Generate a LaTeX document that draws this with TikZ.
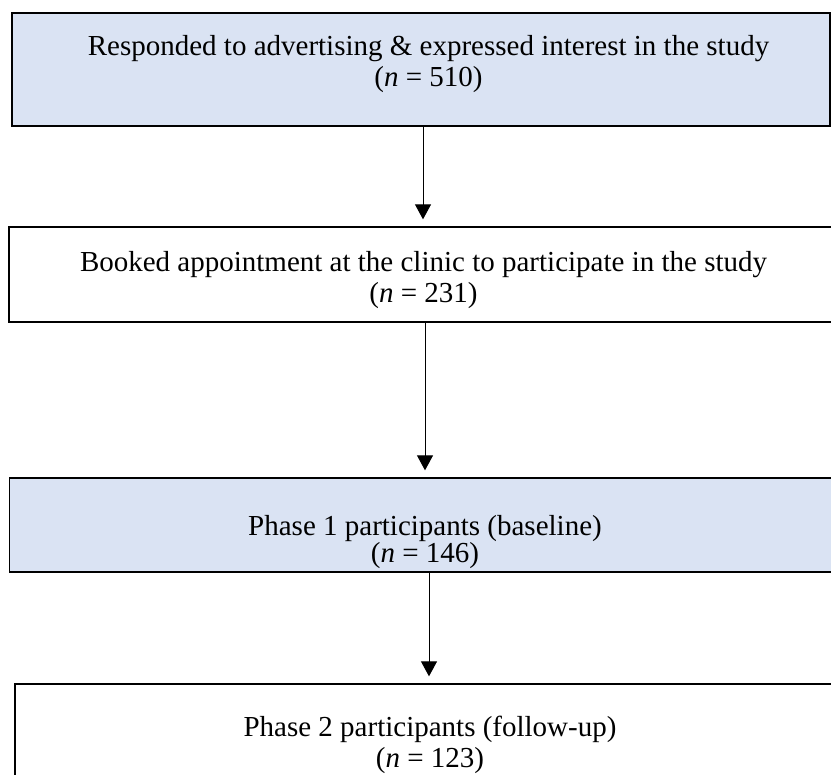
\documentclass[tikz,border=0pt]{standalone}
\usepackage{fontspec}
\setmainfont{Liberation Serif}
\usetikzlibrary{arrows.meta}
\definecolor{boxblue}{HTML}{DAE3F3}
\begin{document}
\begin{tikzpicture}[x=1pt,y=-1pt,
  flowbox/.style={draw=black, line width=1.3pt, rectangle, inner sep=0pt},
  flowtext/.style={font=\fontsize{29}{31}\selectfont, align=center, inner sep=0pt},
  flowarrow/.style={line width=1pt, -{Triangle[width=16pt,length=15pt]}, shorten >=7pt}]
\useasboundingbox (0,0) rectangle (831,775);

% boxes
\node[flowbox, fill=boxblue, minimum width=818pt, minimum height=113pt] (b1) at (421,69.5) {};
\node[flowbox, fill=white, minimum width=828pt, minimum height=95pt] (b2) at (423,274.5) {};
\node[flowbox, fill=boxblue, minimum width=832pt, minimum height=94pt] (b3) at (425.5,525) {};
\node[flowbox, fill=white, minimum width=830pt, minimum height=106pt] (b4) at (430,737) {};

% box texts
\node[flowtext] (t1) at (428.5,64.5) {Responded to advertising \& expressed interest in the study\\(\textit{n} = 510)};
\node[flowtext] (t2) at (423.5,280) {Booked appointment at the clinic to participate in the study\\(\textit{n} = 231)};
\node[flowtext, font=\fontsize{29}{25}\selectfont] (t3) at (425,542) {Phase 1 participants (baseline)\\(\textit{n} = 146)};
\node[flowtext] (t4) at (430,745) {Phase 2 participants (follow-up)\\(\textit{n} = 123)};

% arrow columns
\coordinate (a1) at (423,0);
\coordinate (a2) at (425,0);
\coordinate (a3) at (429,0);

% connectors
\draw[flowarrow] (b1.south -| a1) -- (b2.north -| a1);
\draw[flowarrow] (b2.south -| a2) -- (b3.north -| a2);
\draw[flowarrow] (b3.south -| a3) -- (b4.north -| a3);
\end{tikzpicture}
\end{document}
